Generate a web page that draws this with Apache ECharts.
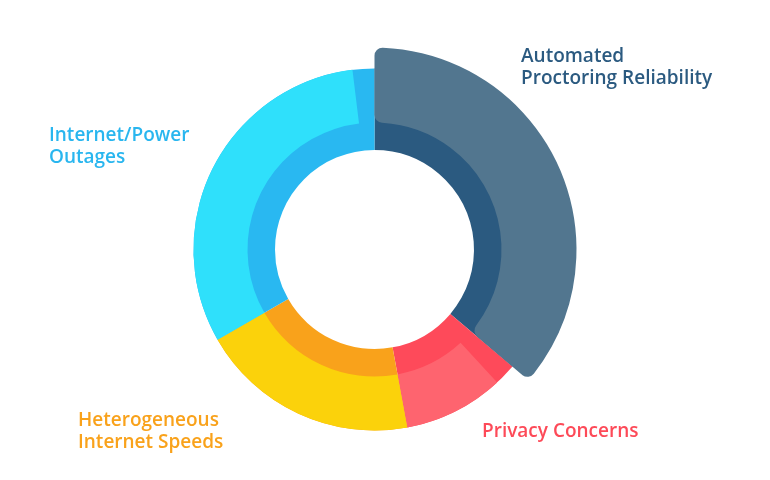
<!DOCTYPE html>
<html>
<head>
<meta charset="utf-8">
<script src="https://cdn.jsdelivr.net/npm/echarts@6/dist/echarts.min.js"></script>
<style>
  html, body { margin: 0; padding: 0; background: #ffffff; }
  #chart { width: 770px; height: 480px; }
</style>
</head>
<body>
<div id="chart"></div>
<script>
// ---- data ----
const categories = ['Automated Proctoring Reliability', 'Privacy Concerns', 'Heterogeneous Internet Speeds', 'Internet/Power Outages'];
const labelTexts = ['Automated\nProctoring Reliability', 'Privacy Concerns', 'Heterogeneous\nInternet Speeds', 'Internet/Power\nOutages'];
const values = [36.2, 10.9, 19.6, 33.3];

// ---- styles ----
const innerColors = ['#2b5a80', '#fe4a5a', '#f9a21b', '#29b8f1'];
const outerColors = ['#52768f', '#fe646f', '#fbd20b', '#2fe0fb'];
const labelColors = ['#2b5a80', '#fd4a58', '#f9a21b', '#29b6ef'];
const labelPos = [[521, 67.5], [482, 431.5], [78, 431.5], [49, 147]];
const CENTER = [374.5, 249.5];
const R_HOLE = 99.5, R_MID = 127, R_OUT = 181, R_BIG = 202;
const GAP_DEG = 7;

const total = values.reduce((a, b) => a + b, 0);
const g = total * GAP_DEG / 360;
const clear = { color: 'rgba(0,0,0,0)' };

const chart = echarts.init(document.getElementById('chart'), null, { renderer: 'canvas' });

const base = {
  type: 'pie',
  center: CENTER,
  startAngle: 90,
  clockwise: true,
  avoidLabelOverlap: false,
  emphasis: { disabled: true },
  animation: false,
  labelLine: { show: false }
};

// inner dark ring (full width, underneath)
const innerSeries = Object.assign({}, base, {
  name: 'inner',
  z: 1,
  radius: [R_HOLE, R_OUT],
  data: categories.map((c, i) => ({
    name: c,
    value: values[i],
    itemStyle: { color: innerColors[i] },
    label: { color: labelColors[i] }
  })),
  label: {
    show: true,
    position: 'outside',
    formatter: p => labelTexts[p.dataIndex],
    fontFamily: 'Open Sans',
    fontWeight: 600,
    fontSize: 19,
    lineHeight: 22
  },
  labelLayout: function (p) {
    const pos = labelPos[p.dataIndex];
    return { x: pos[0], y: pos[1], align: 'left', verticalAlign: 'middle' };
  }
});

// outer lighter ring, with gaps next to the first slice
const outerData = [
  { name: 'g0', value: values[0] + g, itemStyle: clear },
  { name: categories[1], value: values[1] - g, itemStyle: { color: outerColors[1] } },
  { name: categories[2], value: values[2], itemStyle: { color: outerColors[2] } },
  { name: categories[3], value: values[3] - g, itemStyle: { color: outerColors[3] } },
  { name: 'g1', value: g, itemStyle: clear }
];
const outerSeries = Object.assign({}, base, {
  name: 'outer',
  z: 2,
  radius: [R_MID, R_OUT],
  label: { show: false },
  data: outerData
});

// highlighted first slice, larger
const bigSeries = Object.assign({}, base, {
  name: 'big',
  z: 3,
  radius: [R_MID, R_BIG],
  label: { show: false },
  data: categories.map((c, i) => ({
    name: c,
    value: values[i],
    itemStyle: i === 0 ? { color: outerColors[0], borderRadius: 8 } : clear
  }))
});

chart.setOption({
  animation: false,
  backgroundColor: '#ffffff',
  series: [innerSeries, outerSeries, bigSeries]
});
</script>
</body>
</html>
